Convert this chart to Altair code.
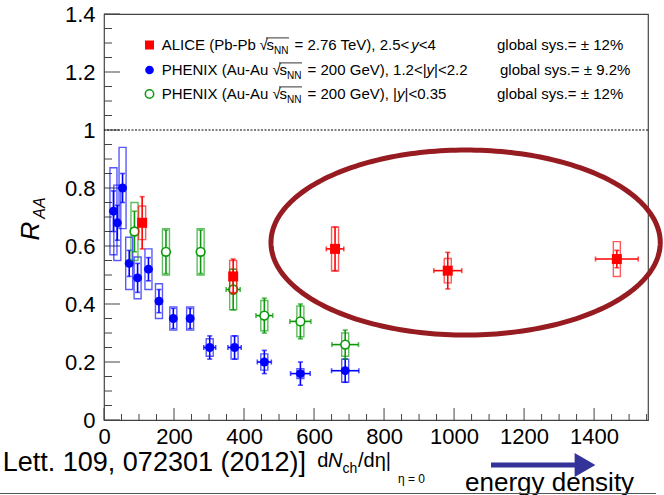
import altair as alt
import pandas as pd
import numpy as np

# ---------------- data ----------------
# ALICE (Pb-Pb 2.76 TeV), 2.5<y<4
red_x = [109, 369, 660, 982, 1465]
red_y = [0.68, 0.495, 0.59, 0.515, 0.555]
red_stat = [0.09, 0.06, 0.075, 0.063, 0.03]
red_sys = [0.058, 0.055, 0.076, 0.042, 0.06]
red_ex = [0, 0, 25, 40, 61]

# PHENIX (Au-Au 200 GeV), 1.2<|y|<2.2
blue_x = [27, 38, 53, 72, 96, 127, 157, 198, 246, 302, 373, 458, 561, 689]
blue_y = [0.72, 0.68, 0.80, 0.54, 0.49, 0.52, 0.41, 0.35, 0.35, 0.25, 0.25, 0.20, 0.16, 0.17]
blue_stat = [0.07, 0.06, 0.05, 0.045, 0.05, 0.04, 0.04, 0.035, 0.035, 0.04, 0.04, 0.04, 0.04, 0.04]
blue_sys = [0.15, 0.13, 0.14, 0.09, 0.072, 0.07, 0.06, 0.04, 0.04, 0.03, 0.04, 0.028, 0.017, 0.04]
blue_ex = [0, 0, 0, 0, 0, 0, 0, 0, 0, 17, 19, 20, 28, 39]

# PHENIX (Au-Au 200 GeV), |y|<0.35
green_x = [87, 177, 276, 369, 458, 561, 689]
green_y = [0.65, 0.58, 0.58, 0.45, 0.36, 0.34, 0.26]
green_stat = [0.07, 0.075, 0.075, 0.07, 0.06, 0.06, 0.05]
green_sys = [0.10, 0.08, 0.08, 0.07, 0.052, 0.053, 0.04]
green_ex = [0, 0, 0, 20, 24, 30, 38]

x_major = [0, 200, 400, 600, 800, 1000, 1200, 1400]
x_minor = [50, 100, 150, 250, 300, 350, 450, 500, 550, 650, 700, 750, 850, 900, 950,
           1050, 1100, 1150, 1250, 1300, 1350, 1450, 1500, 1550]
y_major = [0, 0.2, 0.4, 0.6, 0.8, 1.0, 1.2, 1.4]
y_minor = [0.05, 0.1, 0.15, 0.25, 0.3, 0.35, 0.45, 0.5, 0.55, 0.65, 0.7, 0.75,
           0.85, 0.9, 0.95, 1.05, 1.1, 1.15, 1.25, 1.3, 1.35]
ref_line = [1.0]
# annotation ellipse: centre x, centre y, radius x, radius y (data units)
ellipse = [1033, 0.612, 556, 0.319]

# ---------------- layout ----------------
W, H = 544, 406
L, T = 104, 14
FONT = "Liberation Sans"
xs = alt.Scale(domain=[0, 1554], nice=False, zero=False)
ys = alt.Scale(domain=[0, 1.4], nice=False, zero=False)
xaxis = alt.Axis(values=x_major, title=None, tickSize=0, domain=False, grid=False,
                 labelFontSize=22, labelPadding=6, labelFont=FONT, labelColor="black",
                 format="d", labelFlush=False, labelOverlap=False)
yaxis = alt.Axis(values=y_major, title=None, tickSize=0, domain=False, grid=False,
                 labelFontSize=22, labelPadding=9, labelFont=FONT, labelColor="black",
                 format="~g", labelFlush=False, labelOverlap=False)


def X(f):
    return alt.X(f, type="quantitative", scale=xs, axis=xaxis)


def Y(f):
    return alt.Y(f, type="quantitative", scale=ys, axis=yaxis)


one = pd.DataFrame({"a": [0]})
layers = []

# inward ticks
layers.append(alt.Chart(pd.DataFrame({"v": y_major})).mark_rule(color="#444", strokeWidth=1)
              .encode(y=Y("v"), x=alt.value(0), x2=alt.value(16)))
layers.append(alt.Chart(pd.DataFrame({"v": y_minor})).mark_rule(color="#444", strokeWidth=1)
              .encode(y=Y("v"), x=alt.value(0), x2=alt.value(8)))
layers.append(alt.Chart(pd.DataFrame({"v": x_major})).mark_rule(color="#444", strokeWidth=1)
              .encode(x=X("v"), y=alt.value(H), y2=alt.value(H - 12)))
layers.append(alt.Chart(pd.DataFrame({"v": x_minor})).mark_rule(color="#444", strokeWidth=1)
              .encode(x=X("v"), y=alt.value(H), y2=alt.value(H - 6)))
# dotted reference line
layers.append(alt.Chart(pd.DataFrame({"v": ref_line})).mark_rule(color="black", strokeWidth=1, strokeDash=[2, 1.5])
              .encode(y=Y("v")))


def series(xv, yv, stat, sys, ex, color, shape, filled):
    df = pd.DataFrame(dict(x=xv, y=yv, stat=stat, sys=sys, ex=ex))
    base = alt.Chart(df).transform_calculate(
        ylo="datum.y-datum.stat", yhi="datum.y+datum.stat",
        slo="datum.y-datum.sys", shi="datum.y+datum.sys",
        bxl="datum.x-10", bxr="datum.x+10",
        xl="datum.x-datum.ex", xr="datum.x+datum.ex")
    out = []
    out.append(base.mark_rect(fill=None, stroke=color, strokeWidth=1.4, strokeOpacity=0.65)
               .encode(x=X("bxl:Q"), x2=alt.X2("bxr:Q"), y=Y("slo:Q"), y2=alt.Y2("shi:Q")))
    out.append(base.mark_rule(color=color, strokeWidth=1.6)
               .encode(x=X("x:Q"), y=Y("ylo:Q"), y2=alt.Y2("yhi:Q")))
    out.append(base.transform_fold(["ylo", "yhi"]).mark_tick(orient="horizontal", size=5, thickness=1.6, color=color)
               .encode(x=X("x:Q"), y=Y("value:Q")))
    hb = base.transform_filter("datum.ex > 0")
    out.append(hb.mark_rule(color=color, strokeWidth=1.6)
               .encode(x=X("xl:Q"), x2=alt.X2("xr:Q"), y=Y("y:Q")))
    out.append(hb.transform_fold(["xl", "xr"]).mark_tick(orient="vertical", size=5, thickness=1.6, color=color)
               .encode(x=X("value:Q"), y=Y("y:Q")))
    if filled:
        out.append(base.mark_point(shape=shape, filled=True, size=100 if shape == "square" else 80,
                                   color=color, opacity=1)
                   .encode(x=X("x:Q"), y=Y("y:Q")))
    else:
        out.append(base.mark_point(shape=shape, filled=False, size=75, fill="white", fillOpacity=1,
                                   stroke=color, strokeWidth=1.6, opacity=1)
                   .encode(x=X("x:Q"), y=Y("y:Q")))
    return out


BLUE, GREEN, RED = "#0000ff", "#0b990b", "#ff0000"
layers += series(blue_x, blue_y, blue_stat, blue_sys, blue_ex, BLUE, "circle", True)
layers += series(green_x, green_y, green_stat, green_sys, green_ex, GREEN, "circle", False)
layers += series(red_x, red_y, red_stat, red_sys, red_ex, RED, "square", True)

# ellipse annotation
t = np.linspace(0, 2 * np.pi, 241)
edf = pd.DataFrame({"ex": ellipse[0] + ellipse[2] * np.cos(t),
                    "ey": ellipse[1] + ellipse[3] * np.sin(t),
                    "o": np.arange(len(t))})
layers.append(alt.Chart(edf).mark_line(color="#971c22", strokeWidth=5, clip=False)
              .encode(x=X("ex:Q"), y=Y("ey:Q"), order="o:Q"))


def txt(s, xa, ya, size, italic=False, align="left", baseline="alphabetic", angle=None, color="black"):
    kw = dict(text=s, align=align, baseline=baseline, font=FONT, fontSize=size,
              fontStyle="italic" if italic else "normal", color=color)
    if angle is not None:
        kw["angle"] = angle
    return alt.Chart(one).mark_text(**kw).encode(x=alt.value(xa - L), y=alt.value(ya - T))


def hline(x1, x2, ya, color="black", width=1):
    return alt.Chart(one).mark_rule(color=color, strokeWidth=width).encode(
        x=alt.value(x1 - L), x2=alt.value(x2 - L), y=alt.value(ya - T))


# legend
rows = [50.4, 75.4, 99.4]
layers.append(alt.Chart(one).mark_point(shape="square", filled=True, size=81, color=RED, opacity=1)
              .encode(x=alt.value(149.5 - L), y=alt.value(45 - T)))
layers.append(alt.Chart(one).mark_point(shape="circle", filled=True, size=75, color=BLUE, opacity=1)
              .encode(x=alt.value(149.5 - L), y=alt.value(70 - T)))
layers.append(alt.Chart(one).mark_point(shape="circle", filled=False, size=70, stroke=GREEN, strokeWidth=1.5, opacity=1)
              .encode(x=alt.value(149.5 - L), y=alt.value(94 - T)))

legend_segments = [
    # row 1
    ("ALICE (Pb-Pb", 161.7, 0, False, False),
    ("\u221a", 259.5, 0, False, False),
    ("s", 266.5, 0, False, False),
    ("NN", 274, 0, False, True),
    ("= 2.76 TeV), 2.5<", 294.5, 0, False, False),
    ("y", 411.2, 0, True, False),
    ("<4", 418.7, 0, False, False),
    ("global sys.= \u00b1 12%", 497, 0, False, False),
    # row 2
    ("PHENIX (Au-Au", 161.7, 1, False, False),
    ("\u221a", 272.6, 1, False, False),
    ("s", 279.6, 1, False, False),
    ("NN", 287, 1, False, True),
    ("= 200 GeV), 1.2<|", 307.6, 1, False, False),
    ("y", 426.6, 1, True, False),
    ("|<2.2", 434.1, 1, False, False),
    ("global sys.= \u00b1 9.2%", 500, 1, False, False),
    # row 3
    ("PHENIX (Au-Au", 161.7, 2, False, False),
    ("\u221a", 272.6, 2, False, False),
    ("s", 279.6, 2, False, False),
    ("NN", 287, 2, False, True),
    ("= 200 GeV), |", 307.6, 2, False, False),
    ("y", 397, 2, True, False),
    ("|<0.35", 404.5, 2, False, False),
    ("global sys.= \u00b1 12%", 497, 2, False, False),
]
for s, xa, r, it, sub in legend_segments:
    if sub:
        layers.append(txt(s, xa, rows[r] + 3.5, 10))
    else:
        layers.append(txt(s, xa, rows[r], 15, italic=it))
for r, xa in [(0, 266), (1, 279), (2, 279)]:
    layers.append(hline(xa, xa + 23, rows[r] - 12.5, width=0.8))

# axis titles
layers.append(txt("R", 31, 231, 26, italic=True, align="center", baseline="middle", angle=270))
layers.append(txt("AA", 40, 208, 16, italic=True, align="center", baseline="middle", angle=270))
layers.append(txt("d", 317.3, 467, 20))
layers.append(txt("N", 328, 467, 20, italic=True))
layers.append(txt("ch", 342.5, 473, 14))
layers.append(txt("/d\u03b7|", 358, 467, 20))
layers.append(txt("\u03b7 = 0", 398, 483, 12))

# bottom annotations
layers.append(txt("Phys. Rev. Lett. 109, 072301 (2012)]", 306, 471, 27, align="right"))
layers.append(txt("energy density", 465, 491, 26))
layers.append(hline(491, 577, 465, color="#333399", width=5))
layers.append(alt.Chart(one).mark_point(shape="triangle-right", filled=True, size=576, color="#333399", opacity=1)
              .encode(x=alt.value(585 - L), y=alt.value(465 - T)))
layers.append(hline(0, 656, 493.5, color="#555555", width=1))

chart = alt.layer(*layers).properties(
    width=W, height=H,
    autosize=alt.AutoSizeParams(type="none"),
    padding={"left": L, "top": T, "right": 664 - L - W, "bottom": 495 - T - H},
    background="white",
).configure_view(stroke="#444", strokeWidth=1.2)

chart.save("out.html", embed_options={"renderer": "svg", "actions": False})
